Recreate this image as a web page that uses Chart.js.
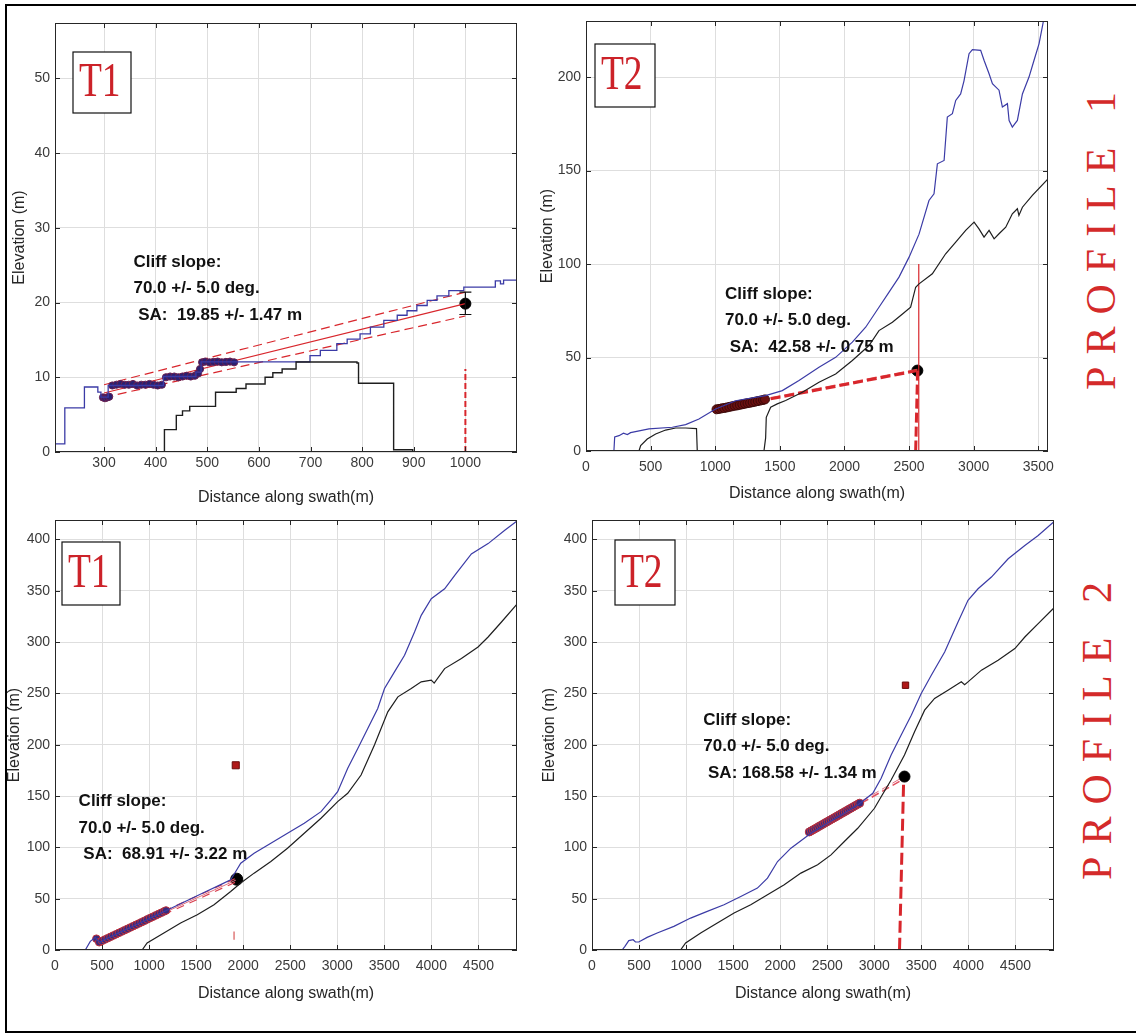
<!DOCTYPE html>
<html lang="en">
<head>
<meta charset="UTF-8">
<title>Cliff slope - profiles 1 and 2</title>
<script src="https://cdn.jsdelivr.net/npm/chart.js"></script>
<style>
  html, body { margin:0; padding:0; background:#fff; overflow:hidden; }
  body { width:1136px; height:1034px; position:relative; }
  canvas { position:absolute; }
  #frame { position:absolute; left:5px; top:4px; width:1160px; height:1029px; border:2px solid #000; box-sizing:border-box; }
  .profile { position:absolute; font-family:'Liberation Serif', serif; font-size:42px; color:#d42a2a;
             letter-spacing:12px; white-space:nowrap; transform:translate(-50%,-50%) rotate(-90deg); }
</style>
</head>
<body>
<div id="frame"></div>
<canvas id="p1" width="514" height="498" style="left:6px;top:10px"></canvas>
<canvas id="p2" width="522" height="496" style="left:534px;top:8px"></canvas>
<canvas id="p3" width="518" height="496" style="left:1px;top:508px"></canvas>
<canvas id="p4" width="524" height="496" style="left:536px;top:508px"></canvas>
<div class="profile" style="left:1101px;top:235px">PROFILE 1</div>
<div class="profile" style="left:1097px;top:725px">PROFILE 2</div>

<script>
// ---------------- data: profile 1, T1 ----------------
const p1XTicks = [300, 400, 500, 600, 700, 800, 900, 1000];
const p1YTicks = [0, 10, 20, 30, 40, 50];
const p1BlueX = [205,224,262,288,294,308,415,478,488,699,719,751,771,796,816,842,868,887,906,926,945,968,997,1058,1068,1074,1100];
const p1BlueY = [1.1,5.9,8.7,8.0,7.35,8.9,10.1,10.7,12.05,12.9,13.6,14.5,15.1,15.8,16.7,17.6,18.3,18.9,19.6,20.3,20.9,21.6,22.05,22.9,22.5,23.0,23.0];
const p1BlackX = [205,417,440,452,466,516,556,575,612,627,645,672,790,793,861,898,1100];
const p1BlackY = [0,3.0,4.9,5.5,6.1,8.0,8.5,9.1,10.0,10.6,11.1,12.05,11.9,9.2,0.3,0,0];
const p1DotsX = [298,302,306,310,316,324,332,340,348,356,364,372,380,388,396,404,412,420,428,436,444,452,460,468,476,482,486,490,496,504,512,520,528,536,544,552];
const p1DotsY = [7.3,7.2,7.3,7.4,8.9,9.0,9.1,9.0,9.0,9.1,8.9,9.0,9.0,9.1,9.0,8.9,9.0,10.0,10.1,10.1,10.0,10.1,10.2,10.1,10.2,10.5,11.1,12.0,12.1,12.0,12.05,12.1,12.0,12.05,12.1,12.0];
const p1FitX = [300, 1000];
const p1FitY = [7.9, 19.85];
const p1UpperY = [9.0, 21.4];
const p1LowerY = [7.3, 18.2];
const p1VertX = [1000, 1000];
const p1VertY = [0, 11.1];
const p1Point = { x: 1000, y: 19.85, lo: 18.4, hi: 21.4 };

// ---------------- data: profile 1, T2 ----------------
const p2XTicks = [0, 500, 1000, 1500, 2000, 2500, 3000, 3500];
const p2YTicks = [0, 50, 100, 150, 200];
const p2BlueX = [0,216,222,255,290,320,345,487,668,771,874,1003,1158,1390,1519,1648,1803,1932,2061,2164,2267,2345,2422,2500,2577,2654,2693,2719,2771,2796,2835,2861,2899,2925,2964,2990,3054,3080,3119,3145,3196,3222,3261,3274,3299,3338,3377,3428,3467,3506,3531,3545];
const p2BlueY = [0,0,7.5,8.2,9.5,8.8,9.8,11.8,12.7,14.1,17.1,22.5,26.9,29.6,32.3,37.7,44.8,50.1,58.2,66.2,76.9,85,93,103.7,116,134,137.6,153.6,155.4,178.6,180.4,187.5,191,198,212.5,214.7,214.3,209,201.8,196.5,193,184,185.8,176.8,173.3,176.8,191,200,209,217.9,226.8,232];
const p2BlackX = [0,410,423,474,539,616,694,771,855,861,1377,1390,1395,1429,1480,1545,1674,1803,1932,2061,2190,2267,2371,2449,2512,2551,2577,2680,2783,2861,2938,3003,3041,3080,3119,3158,3196,3248,3299,3338,3350,3377,3454,3575];
const p2BlackY = [0,0,2.9,6.4,9.1,11.2,12.3,12.3,12.0,0,0,7.0,18,23.4,25.2,27,31.4,36.8,41.2,48.4,56.4,64.4,68.9,73.3,76.9,87.6,89.4,94.8,105.5,111.7,118,122.4,118.8,114.4,118,113.5,116.2,119.7,126.9,129.6,126,130.4,136.7,145.6];
const p2DotsX = [1010,1030,1050,1070,1090,1110,1130,1150,1170,1190,1210,1230,1250,1270,1290,1310,1330,1350,1370,1385];
const p2DotsY = [22.3,22.5,22.8,23.0,23.3,23.6,23.9,24.2,24.4,24.7,25.0,25.3,25.6,25.8,26.1,26.4,26.7,27.0,27.3,27.6];
const p2FitX = [1003, 2564];
const p2FitY = [22.2, 43.0];
const p2Fit2Y = [22.8, 43.6];
const p2SolidX = [2575, 2575];
const p2SolidY = [0, 100];
const p2DashX = [2566, 2551];
const p2DashY = [43, 0];
const p2Point = { x: 2564, y: 43 };

// ---------------- data: profile 2, T1 ----------------
const p3XTicks = [0, 500, 1000, 1500, 2000, 2500, 3000, 3500, 4000, 4500];
const p3YTicks = [0, 50, 100, 150, 200, 250, 300, 350, 400];
const p3BlueX = [0,322,375,429,450,482,518,695,873,1051,1228,1406,1583,1761,1867,1921,1974,2116,2294,2471,2649,2827,2933,3004,3111,3218,3324,3430,3502,3608,3715,3821,3892,3999,4141,4248,4425,4603,4780,4910];
const p3BlueY = [0,0,8.4,12.3,9.5,7.5,9.7,17.4,25.1,32.8,40.5,48.3,56,63.7,68.4,76.5,84.6,94.3,104,113.8,123.5,134.8,146.2,154.3,177,196.4,215.9,235.3,254.8,271,287.2,309.9,326.1,342.3,352,365,386,396,409,418];
const p3BlackX = [0,926,979,1157,1335,1512,1690,1867,1974,2116,2294,2471,2649,2827,3004,3111,3253,3395,3537,3644,3786,3892,3999,4030,4141,4319,4496,4603,4745,4910];
const p3BlackY = [0,0,6.8,16.5,26.3,34.4,44.1,57,65.2,74.9,86.2,99.2,113.8,128.4,144.6,152.7,170.5,199.7,232.1,246.7,254.8,261.3,262.9,260,274.2,284,295.3,305,319.6,337];
const p3DotsX = [440,470,500,530,560,590,620,650,680,710,740,770,800,830,860,890,920,950,980,1010,1040,1070,1100,1130,1160,1180];
const p3DotsY = [11,7.6,8.9,10.2,11.5,12.8,14.1,15.4,16.7,18.0,19.3,20.6,21.9,23.2,24.5,25.8,27.1,28.4,29.8,31.1,32.4,33.7,35.0,36.3,37.6,38.5];
const p3FitX = [480, 1921];
const p3FitY = [8, 68];
const p3UpperY = [9.5, 69.8];
const p3LowerY = [6.5, 66.2];
const p3TickX = [1903, 1903];
const p3TickY = [10, 18];
const p3Point = { x: 1931, y: 69 };
const p3Square = { x: 1921, y: 180 };

// ---------------- data: profile 2, T2 ----------------
const p4XTicks = [0, 500, 1000, 1500, 2000, 2500, 3000, 3500, 4000, 4500];
const p4YTicks = [0, 50, 100, 150, 200, 250, 300, 350, 400];
const p4BlueX = [0,320,350,391,437,462,497,586,693,870,1048,1225,1403,1581,1758,1865,1972,2114,2256,2327,2469,2647,2824,2984,3073,3179,3286,3393,3499,3606,3748,3890,3996,4103,4245,4423,4600,4742,4906];
const p4BlueY = [0,0,3.6,9.1,10,7.8,7.8,12.3,16.5,23,31.1,37.6,44.1,52.2,60.3,70,86.2,99.2,108.9,113.8,121.9,131.6,141.3,152.7,167.3,190,209.4,228.8,249.9,267.7,290.4,319.6,340.7,352,363.4,381.2,394.2,403.9,417];
const p4BlackX = [0,941,995,1155,1332,1510,1687,1865,2043,2220,2398,2540,2682,2824,3002,3073,3179,3321,3428,3535,3641,3783,3925,3960,3996,4139,4316,4494,4600,4742,4906];
const p4BlackY = [0,0,6.8,16.5,26.3,36,44.1,53.8,63.5,74.9,83,92.7,105.7,118.6,138.1,149.4,165.6,190,212.6,233.7,245.1,253.2,261.3,258.5,261.3,272.7,282.4,293.7,305,318,333];
const p4DotsX = [2309,2330,2350,2370,2390,2410,2430,2450,2470,2490,2510,2530,2550,2570,2590,2610,2630,2650,2670,2690,2710,2730,2750,2770,2790,2810,2830,2845];
const p4DotsY = [115,116.1,117.1,118.2,119.2,120.3,121.3,122.4,123.4,124.5,125.5,126.6,127.6,128.7,129.7,130.8,131.8,132.9,133.9,135,136,137.1,138.1,139.2,140.2,141.3,142.3,143.1];
const p4FitX = [2309, 3300];
const p4FitY = [114, 166];
const p4UpperY = [115.8, 168.2];
const p4DashX = [3311, 3268];
const p4DashY = [161, 0];
const p4Point = { x: 3321, y: 169 };
const p4Square = { x: 3332, y: 258 };

// ---------------- helpers ----------------
Chart.defaults.font.family = "'Liberation Sans', Arial, sans-serif";
Chart.defaults.animation = false;

const BLUE = '#3b3ba6', BLACK = '#1e1e1e', RED = '#d8262c';

function pts(xs, ys) { return xs.map((v, i) => ({ x: v, y: ys[i] })); }

function line(xs, ys, color, width, extra) {
    return Object.assign({ data: pts(xs, ys), showLine: true, borderColor: color, borderWidth: width,
                           pointRadius: 0, fill: false }, extra || {});
}

function marks(xs, ys, bg, border, radius, style) {
    return { data: pts(xs, ys), showLine: false, pointRadius: radius, pointStyle: style || 'circle',
             backgroundColor: bg, borderColor: border, pointBorderWidth: 1 };
}

// box, inner ticks, error bars, T label, notes
const panelDecor = {
    id: 'panelDecor',
    afterDatasetsDraw(chart, args, o) {
        const { ctx, chartArea: a } = chart;
        const x = chart.scales.x, y = chart.scales.y;
        ctx.save();

        (o.errorBars || []).forEach(e => {
            const px = x.getPixelForValue(e.x);
            const lo = y.getPixelForValue(e.lo), hi = y.getPixelForValue(e.hi);
            ctx.strokeStyle = '#111'; ctx.lineWidth = 1.2;
            ctx.beginPath();
            ctx.moveTo(px, lo); ctx.lineTo(px, hi);
            ctx.moveTo(px - 6, lo); ctx.lineTo(px + 6, lo);
            ctx.moveTo(px - 6, hi); ctx.lineTo(px + 6, hi);
            ctx.stroke();
        });

        ctx.strokeStyle = '#262626'; ctx.lineWidth = 1;
        ctx.strokeRect(a.left + 0.5, a.top + 0.5, a.width - 1, a.height - 1);
        ctx.beginPath();
        x.ticks.forEach(t => {
            const p = Math.round(x.getPixelForValue(t.value)) + 0.5;
            ctx.moveTo(p, a.bottom); ctx.lineTo(p, a.bottom - 5);
            ctx.moveTo(p, a.top); ctx.lineTo(p, a.top + 5);
        });
        y.ticks.forEach(t => {
            const p = Math.round(y.getPixelForValue(t.value)) + 0.5;
            ctx.moveTo(a.left, p); ctx.lineTo(a.left + 5, p);
            ctx.moveTo(a.right, p); ctx.lineTo(a.right - 5, p);
        });
        ctx.stroke();

        // tag box
        const [dx, dy, w, h] = o.tagBox;
        const bx = a.left + dx, by = a.top + dy;
        ctx.fillStyle = '#fff';
        ctx.fillRect(bx, by, w, h);
        ctx.strokeStyle = '#111'; ctx.lineWidth = 1.2;
        ctx.strokeRect(bx, by, w, h);
        ctx.save();
        ctx.translate(bx + 6, by + h * 0.72);
        ctx.scale(0.78, 1);
        ctx.fillStyle = '#cc2229';
        ctx.font = "48px 'Liberation Serif', serif";
        ctx.textBaseline = 'alphabetic';
        ctx.fillText(o.tag, 0, 0);
        ctx.restore();

        // notes
        ctx.fillStyle = '#111';
        ctx.font = "bold 17px 'Liberation Sans', Arial, sans-serif";
        ctx.textBaseline = 'middle';
        ctx.textAlign = 'left';
        const nx = x.getPixelForValue(o.noteAt.x), ny = y.getPixelForValue(o.noteAt.y);
        o.note.forEach((s, i) => ctx.fillText(s, nx, ny + i * 26.5));
        ctx.restore();
    }
};

function makeChart(id, cfg) {
    const tickFont = { size: 14 };
    const titleFont = { size: 16 };
    return new Chart(document.getElementById(id), {
        type: 'scatter',
        data: { datasets: cfg.datasets },
        plugins: [panelDecor],
        options: {
            responsive: false,
            devicePixelRatio: 1,
            layout: { padding: cfg.padding, autoPadding: false },
            plugins: { legend: { display: false }, tooltip: { enabled: false }, panelDecor: cfg.decor },
            scales: {
                x: {
                    type: 'linear', min: cfg.xMin, max: cfg.xMax,
                    afterBuildTicks: s => { s.ticks = cfg.xTicks.map(v => ({ value: v })); },
                    afterFit: s => { s.height = cfg.xHeight; s.paddingLeft = 0; s.paddingRight = 0; },
                    ticks: { color: '#3a3a3a', font: tickFont, padding: cfg.xPad, maxRotation: 0, autoSkip: false,
                             callback: v => String(v) },
                    grid: { color: '#dedede', drawTicks: false },
                    border: { display: false },
                    title: { display: true, text: 'Distance along swath(m)', color: '#262626', font: titleFont,
                             padding: { top: 0, bottom: 1 } }
                },
                y: {
                    type: 'linear', min: 0, max: cfg.yMax,
                    afterBuildTicks: s => { s.ticks = cfg.yTicks.map(v => ({ value: v })); },
                    afterFit: s => { s.width = cfg.yWidth; s.paddingTop = 0; s.paddingBottom = 0; },
                    ticks: { color: '#3a3a3a', font: tickFont, padding: 5, autoSkip: false,
                             callback: v => String(v) },
                    grid: { color: '#dedede', drawTicks: false },
                    border: { display: false },
                    title: { display: true, text: 'Elevation (m)', color: '#262626', font: titleFont,
                             padding: { top: 4, bottom: 0 } }
                }
            }
        }
    });
}

// ---------------- charts ----------------
makeChart('p1', {
    xMin: 205, xMax: 1100, yMax: 57.4, xTicks: p1XTicks, yTicks: p1YTicks,
    padding: { top: 13, right: 3 }, yWidth: 49, xHeight: 56, xPad: 3,
    datasets: [
        line(p1BlackX, p1BlackY, BLACK, 1.4, { stepped: true }),
        line(p1BlueX, p1BlueY, BLUE, 1.3, { stepped: true }),
        marks(p1DotsX, p1DotsY, '#2a2070', '#6a2050', 3.6),
        line(p1FitX, p1FitY, RED, 1.1),
        line(p1FitX, p1UpperY, RED, 1.2, { borderDash: [9, 5] }),
        line(p1FitX, p1LowerY, RED, 1.2, { borderDash: [9, 5] }),
        line(p1VertX, p1VertY, RED, 2, { borderDash: [6, 3] }),
        marks([p1Point.x], [p1Point.y], '#000', '#000', 5.5)
    ],
    decor: { tag: 'T1', tagBox: [18, 29, 58, 61],
             note: ['Cliff slope:', '70.0 +/- 5.0 deg.', ' SA:  19.85 +/- 1.47 m'],
             noteAt: { x: 357, y: 25.4 },
             errorBars: [p1Point] }
});

makeChart('p2', {
    xMin: 0, xMax: 3575, yMax: 230, xTicks: p2XTicks, yTicks: p2YTicks,
    padding: { top: 13, right: 8 }, yWidth: 52, xHeight: 53, xPad: 8,
    datasets: [
        line(p2BlackX, p2BlackY, BLACK, 1.2),
        line(p2BlueX, p2BlueY, BLUE, 1.2),
        marks(p2DotsX, p2DotsY, '#6b1010', '#3a0808', 4.5),
        line(p2FitX, p2FitY, RED, 3, { borderDash: [10, 4] }),
        line(p2FitX, p2Fit2Y, '#e05050', 1.5, { borderDash: [10, 4] }),
        line(p2SolidX, p2SolidY, RED, 1.2),
        line(p2DashX, p2DashY, RED, 3, { borderDash: [10, 4] }),
        marks([p2Point.x], [p2Point.y], '#000', '#000', 5.5)
    ],
    decor: { tag: 'T2', tagBox: [9, 23, 60, 63],
             note: ['Cliff slope:', '70.0 +/- 5.0 deg.', ' SA:  42.58 +/- 0.75 m'],
             noteAt: { x: 1075, y: 84 } }
});

makeChart('p3', {
    xMin: 0, xMax: 4910, yMax: 419, xTicks: p3XTicks, yTicks: p3YTicks,
    padding: { top: 12, right: 2 }, yWidth: 54, xHeight: 54, xPad: 8,
    datasets: [
        line(p3BlackX, p3BlackY, BLACK, 1.2),
        line(p3BlueX, p3BlueY, BLUE, 1.2),
        marks(p3DotsX, p3DotsY, '#3a2a7a', '#c0303a', 3.8),
        line(p3FitX, p3FitY, '#e07080', 1),
        line(p3FitX, p3UpperY, '#d84050', 1.2, { borderDash: [8, 6] }),
        line(p3FitX, p3LowerY, '#d84050', 1.2, { borderDash: [8, 6] }),
        line(p3TickX, p3TickY, '#e07a7a', 1.5),
        marks([p3Point.x], [p3Point.y], '#000', '#000', 6),
        marks([p3Square.x], [p3Square.y], '#b01818', '#6a0a0a', 5, 'rect')
    ],
    decor: { tag: 'T1', tagBox: [7, 22, 58, 63],
             note: ['Cliff slope:', '70.0 +/- 5.0 deg.', ' SA:  68.91 +/- 3.22 m'],
             noteAt: { x: 251, y: 144.6 } }
});

makeChart('p4', {
    xMin: 0, xMax: 4910, yMax: 419, xTicks: p4XTicks, yTicks: p4YTicks,
    padding: { top: 12, right: 6 }, yWidth: 56, xHeight: 54, xPad: 8,
    datasets: [
        line(p4BlackX, p4BlackY, BLACK, 1.2),
        line(p4BlueX, p4BlueY, BLUE, 1.2),
        marks(p4DotsX, p4DotsY, '#3a2a7a', '#c0303a', 4),
        line(p4FitX, p4FitY, '#e05060', 1.5, { borderDash: [8, 4] }),
        line(p4FitX, p4UpperY, '#e07080', 1, { borderDash: [8, 4] }),
        line(p4DashX, p4DashY, RED, 3, { borderDash: [12, 5] }),
        marks([p4Point.x], [p4Point.y], '#000', '#000', 5.5),
        marks([p4Square.x], [p4Square.y], '#b01818', '#6a0a0a', 4.5, 'rect')
    ],
    decor: { tag: 'T2', tagBox: [23, 20, 60, 65],
             note: ['Cliff slope:', '70.0 +/- 5.0 deg.', ' SA: 168.58 +/- 1.34 m'],
             noteAt: { x: 1183, y: 224 } }
});
</script>
</body>
</html>
